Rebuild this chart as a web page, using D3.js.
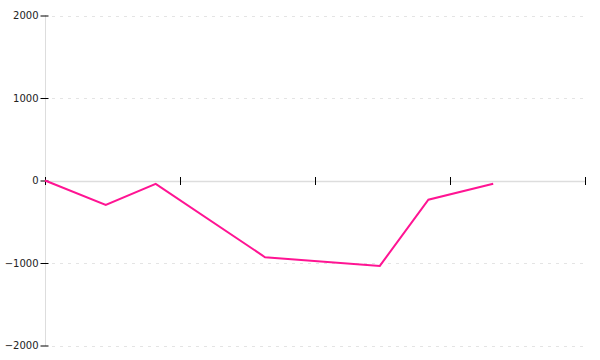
<!DOCTYPE html>
<html><head><meta charset="utf-8">
<script src="https://cdn.jsdelivr.net/npm/d3@7"></script>
<style>body{margin:0;background:#fff}svg{display:block}</style>
</head><body>
<svg id="chart" width="600" height="360"></svg>
<script>
const xValues = [0, 0.45, 0.82, 1.63, 2.48, 2.84, 3.32];
const yValues = [0, -295, -40, -930, -1035, -233, -40];
const yTicks = [-2000, -1000, 0, 1000, 2000];
const xTicks = [0, 1, 2, 3, 4];

const svg = d3.select("#chart");
const x = d3.scaleLinear().domain([0, 4]).range([45, 585]);
const y = d3.scaleLinear().domain([-2000, 2000]).range([345.5, 15.5]);

// grid
svg.append("g").selectAll("line").data(yTicks.filter(d => d !== 0)).join("line")
  .attr("x1", 52).attr("x2", 585)
  .attr("y1", d => Math.round(y(d)) + 0.5).attr("y2", d => Math.round(y(d)) + 0.5)
  .attr("stroke", "#e4e4e4").attr("stroke-dasharray", "3,5");

// y axis line
svg.append("line").attr("x1", 45.5).attr("x2", 45.5).attr("y1", 15).attr("y2", 346)
  .attr("stroke", "#dddddd");
// x axis line
svg.append("line").attr("x1", 45).attr("x2", 585).attr("y1", Math.round(y(0)) + 0.5).attr("y2", Math.round(y(0)) + 0.5)
  .attr("stroke", "#dddddd").attr("stroke-width", 1.5);

// y ticks
const yAxis = d3.axisLeft(y).tickValues(yTicks).tickSize(8).tickPadding(2).tickFormat(d3.format("d"));
const gy = svg.append("g").attr("transform", "translate(48.5,0)").call(yAxis);
gy.select(".domain").remove();
gy.selectAll(".tick line").attr("stroke", "#000");
gy.selectAll(".tick text").attr("font-family", "DejaVu Sans").attr("font-size", 10).attr("fill", "#222");

// x ticks
const xAxis = d3.axisBottom(x).tickValues(xTicks).tickSize(8).tickFormat("");
const gx = svg.append("g").attr("transform", "translate(0,177)").call(xAxis);
gx.select(".domain").remove();
gx.selectAll(".tick line").attr("stroke", "#000");

// line
const data = xValues.map((v, i) => [v, yValues[i]]);
svg.append("path").datum(data)
  .attr("d", d3.line().x(d => x(d[0])).y(d => y(d[1])))
  .attr("fill", "none").attr("stroke", "#ff1493").attr("stroke-width", 2);
</script>
</body></html>
